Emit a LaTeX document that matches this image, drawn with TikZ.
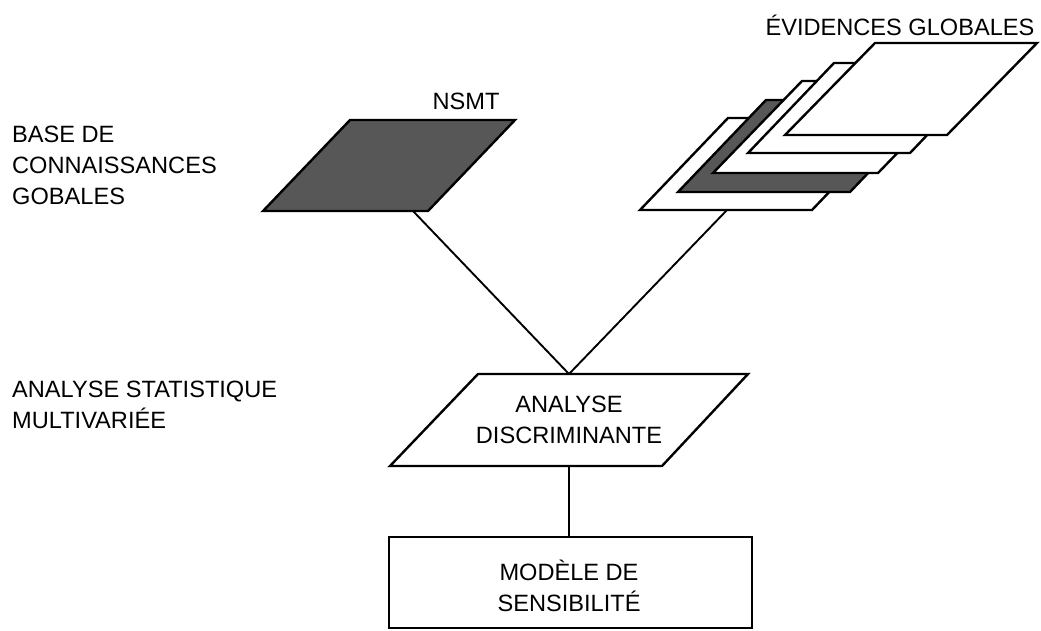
\documentclass[tikz,border=0pt]{standalone}
\usepackage{fontspec}
\setmainfont{Liberation Sans}
\begin{document}
\begin{tikzpicture}[x=1pt,y=-1pt,
  outline/.style={draw=black,line width=2.4pt,line join=miter},
  sheet/.style={outline,fill=white},
  darksheet/.style={outline,fill=black!66},
  conn/.style={draw=black,line width=1.9pt},
  lbl/.style={font=\fontsize{23.6}{31}\selectfont,align=left,anchor=west,inner sep=0pt},
  ctr/.style={font=\fontsize{23.6}{31}\selectfont,align=center,inner sep=0pt}]
\useasboundingbox[fill=white] (0,0) rectangle (1041,630);

% left labels
\node[lbl] (base) at (12,165) {BASE DE\\CONNAISSANCES\\GOBALES};
\node[lbl] (stat) at (12,405) {ANALYSE STATISTIQUE\\MULTIVARIÉE};

% NSMT sheet
\draw[darksheet] (263,211) -- ++(87,-91) -- ++(165,0) -- ++(-87,91) -- cycle;
\node[ctr] (nsmt) at (466,101) {NSMT};
\coordinate (nsmtb) at (413,211);

% global evidences stack (back to front)
\draw[sheet] (640,210) -- ++(88,-92) -- ++(172,0) -- ++(-88,92) -- cycle;
\draw[darksheet] (678,192) -- ++(88,-92) -- ++(172,0) -- ++(-88,92) -- cycle;
\draw[sheet] (713,173) -- ++(89,-92) -- ++(165,0) -- ++(-89,92) -- cycle;
\draw[sheet] (748,153) -- ++(86,-90) -- ++(162,0) -- ++(-86,90) -- cycle;
\draw[sheet] (785,135) -- ++(90,-92) -- ++(162,0) -- ++(-90,92) -- cycle;
\node[ctr] (evid) at (900,25) {ÉVIDENCES GLOBALES};
\coordinate (evb) at (727,210);

% discriminant analysis
\draw[sheet] (390,466) -- (478,374) -- (748,374) -- (662,466) -- cycle;
\node[ctr] (anal) at (569,420) {ANALYSE\\DISCRIMINANTE};
\coordinate (apex) at (569,374);
\coordinate (adb) at (569,466);

% model box
\node[outline,fill=white,minimum width=363pt,minimum height=91pt,inner sep=0pt] (model) at (570.5,582.5) {};
\node[ctr] (modeltxt) at (569,586) {MODÈLE DE\\SENSIBILITÉ};

% connectors
\draw[conn] (nsmtb) -- (apex);
\draw[conn] (evb) -- (apex);
\draw[conn] (adb) -- (adb |- model.north);
\end{tikzpicture}
\end{document}
